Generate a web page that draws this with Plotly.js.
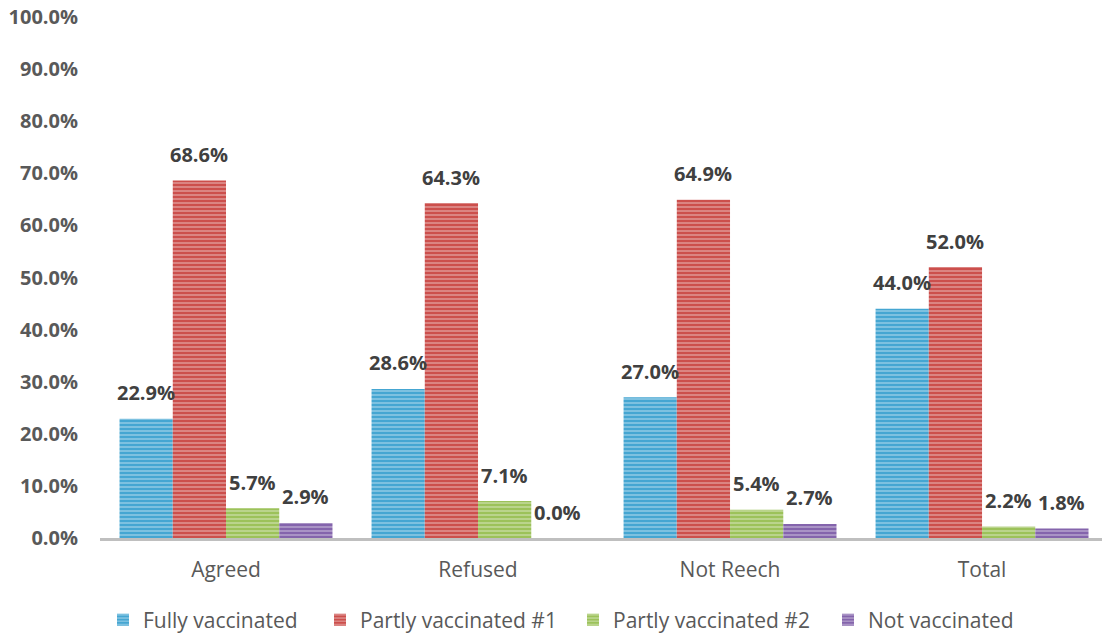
<!DOCTYPE html>
<html>
<head>
<meta charset="utf-8">
<script src="https://cdn.plot.ly/plotly-3.0.1.min.js"></script>
<style>
  html, body { margin: 0; padding: 0; background: #ffffff; }
  #chart { width: 1102px; height: 634px; }
</style>
</head>
<body>
<div id="chart"></div>
<script>
// Vaccination status by group (share of respondents)
const categories = ["Agreed", "Refused", "Not Reech", "Total"];
const seriesNames = ["Fully vaccinated", "Partly vaccinated #1", "Partly vaccinated #2", "Not vaccinated"];
const fullyVaccinated = [0.229, 0.286, 0.270, 0.440];
const partlyVaccinated1 = [0.686, 0.643, 0.649, 0.520];
const partlyVaccinated2 = [0.057, 0.071, 0.054, 0.022];
const notVaccinated = [0.029, 0.000, 0.027, 0.018];
const yTickValues = [0, 0.1, 0.2, 0.3, 0.4, 0.5, 0.6, 0.7, 0.8, 0.9, 1.0];
const yTickLabels = ["0.0%", "10.0%", "20.0%", "30.0%", "40.0%", "50.0%", "60.0%", "70.0%", "80.0%", "90.0%", "100.0%"];

const seriesValues = [fullyVaccinated, partlyVaccinated1, partlyVaccinated2, notVaccinated];
const seriesColors = ["#45a6d2", "#cc4f4c", "#9cc25a", "#8464ac"];

const FONT = "'Open Sans', Lato, sans-serif";
const BARGAP = 0.155;
const nSeries = seriesValues.length;
const barWidth = (1 - BARGAP) / nSeries;

// One legend per series so each entry sits at its own spot along the bottom row
const legendIds = ["legend", "legend2", "legend3", "legend4"];
const legendLeftPx = [103, 320, 573, 828];

const catIndex = categories.map((c, i) => i);

const traces = seriesValues.map((vals, s) => ({
  type: "bar",
  name: seriesNames[s],
  legend: legendIds[s],
  x: catIndex,
  y: vals,
  marker: {
    color: seriesColors[s],
    line: { width: 0 },
    pattern: {
      shape: "-",
      fillmode: "overlay",
      fgcolor: "rgba(255,255,255,0.8)",
      size: 4,
      solidity: 0.38
    }
  },
  hoverinfo: "skip"
}));

// Value labels placed over each bar of the group
const annotations = [];
seriesValues.forEach((vals, s) => {
  const offset = (s - (nSeries - 1) / 2) * barWidth;
  vals.forEach((v, i) => {
    annotations.push({
      x: i + offset,
      y: v,
      xref: "x",
      yref: "y",
      text: (v * 100).toFixed(1) + "%",
      showarrow: false,
      yanchor: "middle",
      yshift: 26,
      font: { family: FONT, size: 20, color: "#404040", weight: "bold" }
    });
  });
});

const layout = {
  width: 1102,
  height: 634,
  paper_bgcolor: "#ffffff",
  plot_bgcolor: "#ffffff",
  margin: { l: 100, r: 0, t: 17, b: 96, autoexpand: false },
  barmode: "group",
  bargap: BARGAP,
  bargroupgap: 0,
  showlegend: true,
  xaxis: {
    type: "linear",
    range: [-0.5, 3.476],
    tickmode: "array",
    tickvals: catIndex,
    ticktext: categories,
    showgrid: false,
    zeroline: false,
    showline: true,
    linecolor: "#bfbfbf",
    linewidth: 3,
    ticks: "",
    ticklabelstandoff: 11,
    tickfont: { family: FONT, size: 21, color: "#595959" },
    automargin: false,
    fixedrange: true
  },
  yaxis: {
    range: [0, 1],
    tickmode: "array",
    tickvals: yTickValues,
    ticktext: yTickLabels,
    showgrid: false,
    zeroline: false,
    showline: false,
    ticks: "",
    ticklabelstandoff: 21,
    tickfont: { family: FONT, size: 20, color: "#595959", weight: "bold" },
    automargin: false,
    fixedrange: true
  },
  annotations: annotations
};

legendIds.forEach((id, s) => {
  layout[id] = {
    orientation: "h",
    xref: "container",
    yref: "container",
    x: legendLeftPx[s] / 1102,
    xanchor: "left",
    y: 1 - 620 / 634,
    yanchor: "middle",
    bgcolor: "rgba(0,0,0,0)",
    font: { family: FONT, size: 21, color: "#595959" }
  };
});

Plotly.newPlot("chart", traces, layout, { displayModeBar: false, staticPlot: true });
</script>
</body>
</html>
